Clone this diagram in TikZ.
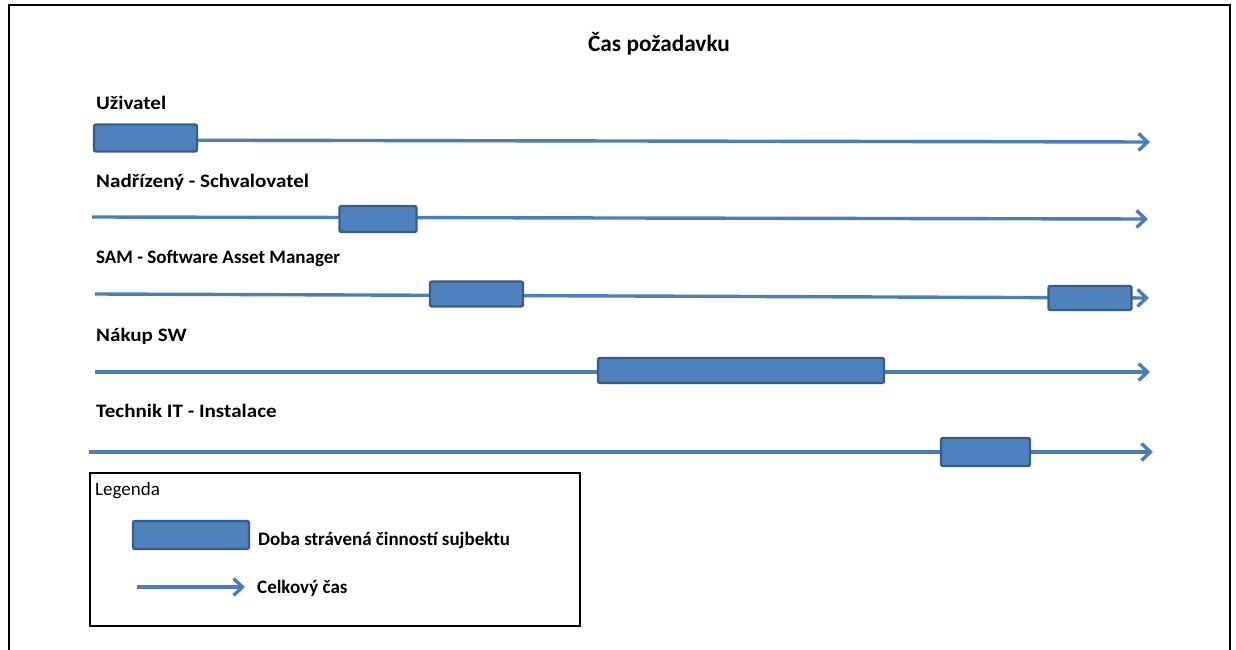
\documentclass[tikz,border=0pt]{standalone}
\usepackage{fontspec}
\setmainfont{Carlito}
\usetikzlibrary{arrows.meta}
\definecolor{barfill}{HTML}{4F81BD}
\definecolor{bardraw}{HTML}{385D8A}
\definecolor{timeline}{HTML}{4A7EBB}
\newcommand{\widelabel}[1]{\scalebox{1.11}[1]{#1}}
\begin{document}
\begin{tikzpicture}[x=1pt,y=-1pt,
  lanelabel/.style={anchor=base west,inner sep=0pt,font=\fontsize{19}{22}\selectfont\bfseries},
  legendtext/.style={anchor=base west,inner sep=0pt,font=\fontsize{19}{22}\selectfont\bfseries},
  activity/.style={draw=bardraw,fill=barfill,line width=2.4pt,rounded corners=2pt,inner sep=0pt},
  timearrow/.style={draw=timeline,line width=3.4pt,-{Straight Barb[length=9pt,width=17pt,line width=3.4pt]}},
  frameline/.style={draw=black,line width=2.2pt}
]
\useasboundingbox (0,0) rectangle (1236,650);
\fill[white] (0,0) rectangle (1236,650);

% outer frame, open at the bottom
\draw[frameline] (9,652) -- (9,5) -- (1230,5) -- (1230,652);

% title
\node[anchor=base,inner sep=0pt,font=\fontsize{23.3}{27}\selectfont\bfseries] (title) at (659,52) {Čas požadavku};

% lane labels
\node[lanelabel] (l1) at (96,110) {\widelabel{Uživatel}};
\node[lanelabel] (l2) at (96,187) {\widelabel{Nadřízený - Schvalovatel}};
\node[lanelabel] (l3) at (96,263) {SAM - Software Asset Manager};
\node[lanelabel] (l4) at (96,341) {\widelabel{Nákup SW}};
\node[lanelabel] (l5) at (96,417) {\widelabel{Technik IT - Instalace}};

% timelines
\coordinate (s1) at (93,140);  \coordinate (e1) at (1150,142);
\coordinate (s2) at (92,217);  \coordinate (e2) at (1148,219);
\coordinate (s3) at (95,294);  \coordinate (e3) at (1149,298);
\coordinate (s4) at (95,372);  \coordinate (e4) at (1150,372);
\coordinate (s5) at (89,452);  \coordinate (e5) at (1153,452);
\foreach \i in {1,...,5} {\draw[timearrow] (s\i) -- (e\i);}

% activity bars
\node[activity,minimum width=103pt,minimum height=27pt] (b1) at (145.5,138) {};
\node[activity,minimum width=77pt,minimum height=26pt] (b2) at (378,219) {};
\node[activity,minimum width=93pt,minimum height=25pt] (b3a) at (476.5,294) {};
\node[activity,minimum width=83pt,minimum height=24pt] (b3b) at (1090,298) {};
\node[activity,minimum width=286pt,minimum height=25pt] (b4) at (741,370.5) {};
\node[activity,minimum width=89pt,minimum height=28pt] (b5) at (985.5,452) {};

% legend
\draw[frameline] (90,473) rectangle (580,626);
\node[anchor=base west,inner sep=0pt,font=\fontsize{19}{22}\selectfont] (leg) at (95,495) {Legenda};
\node[activity,minimum width=116pt,minimum height=28pt] (legbar) at (191,535) {};
\node[legendtext] (legbartext) at (258,545) {Doba strávená činností sujbektu};
\coordinate (las) at (137,587); \coordinate (lae) at (245,587);
\draw[timearrow] (las) -- (lae);
\node[legendtext] (legarrtext) at (257,593) {Celkový čas};
\end{tikzpicture}
\end{document}
